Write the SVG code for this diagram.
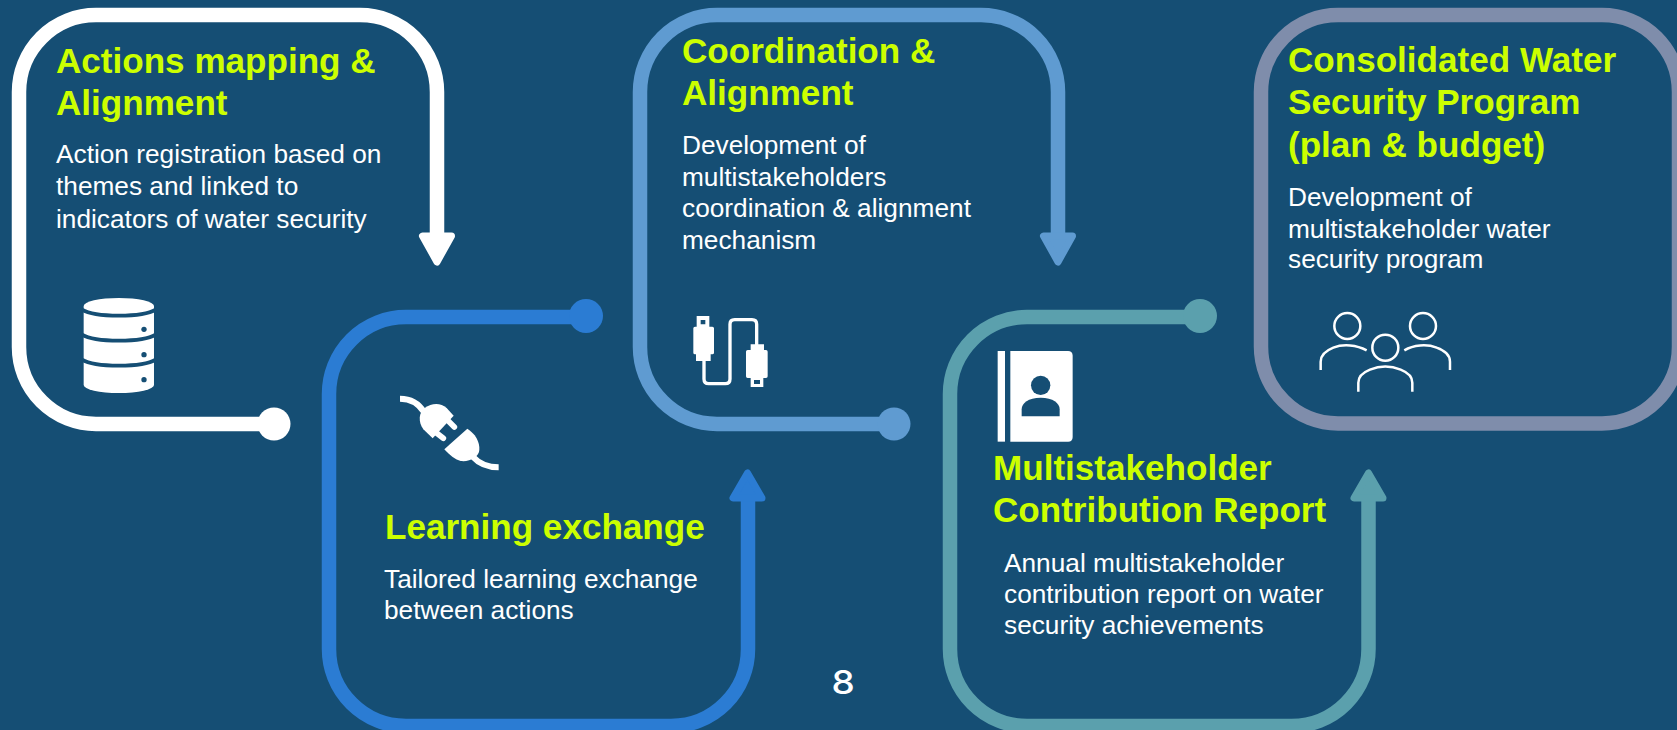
<svg xmlns="http://www.w3.org/2000/svg" width="1677" height="730" viewBox="0 0 1677 730">
<defs>
<style>
.h{font:bold 35.1px "Liberation Sans",Arial,sans-serif;fill:#ccff00}
.b{font:26.25px "Liberation Sans",Arial,sans-serif;fill:#fff}
.loop{fill:none;stroke-width:14.5}
.head{stroke-width:7;stroke-linejoin:round}
.w{fill:#fff;stroke:#fff}.wl{stroke:#fff}.wd{fill:#fff}
.c2{fill:#2b7cd3;stroke:#2b7cd3}.l2{stroke:#2b7cd3}.d2{fill:#2b7cd3}
.c3{fill:#5f9bd1;stroke:#5f9bd1}.l3{stroke:#5f9bd1}.d3{fill:#5f9bd1}
.c4{fill:#5ba0ad;stroke:#5ba0ad}.l4{stroke:#5ba0ad}.d4{fill:#5ba0ad}
.ic{fill:#fff}.icl{fill:none;stroke:#fff}.dk{fill:#154e74}.dkl{fill:none;stroke:#154e74}
</style>
</defs>
<rect width="1677" height="730" fill="#154e74"/>
<g id="connectors">
<path class="loop wl" d="M274 424H96A77 77 0 0 1 19 347V92A77 77 0 0 1 96 15H360A77 77 0 0 1 437 92V236"/>
<circle class="wd" cx="274" cy="424" r="16.500"/>
<polygon class="head w" points="422.500,236 451.500,236 437,262"/>
<path class="loop l2" d="M586 317H406A77 77 0 0 0 329 394V649A77 77 0 0 0 406 726H671A77 77 0 0 0 748 649V498"/>
<circle class="d2" cx="586" cy="316" r="17"/>
<polygon class="head c2" points="733,498 762,498 747.500,473"/>
<path class="loop l3" d="M894 424H717A77 77 0 0 1 640 347V92A77 77 0 0 1 717 15H981A77 77 0 0 1 1058 92V236"/>
<circle class="d3" cx="894" cy="424" r="16.500"/>
<polygon class="head c3" points="1043.500,236 1072.500,236 1058,262"/>
<path class="loop l4" d="M1200 317H1027A77 77 0 0 0 950 394V649A77 77 0 0 0 1027 726H1291A77 77 0 0 0 1368.500 649V498"/>
<circle class="d4" cx="1200" cy="316" r="17"/>
<polygon class="head c4" points="1354,498 1383,498 1368.500,473"/>
</g>
<g id="node1">
<text class="h" x="56" y="73">Actions mapping &amp;</text>
<text class="h" x="56" y="115">Alignment</text>
<text class="b" x="56" y="163">Action registration based on</text>
<text class="b" x="56" y="195">themes and linked to</text>
<text class="b" x="56" y="228">indicators of water security</text>
<g id="icon-database" transform="translate(60 280) scale(.3333)">
<path class="ic" d="M71 78A105.500 24 0 0 1 282 78V315A105.500 24 0 0 1 71 315Z"/>
<path class="dkl" stroke-width="11" d="M66 89C105 113 248 113 287 89M66 164C105 188 248 188 287 164M66 239C105 263 248 263 287 239"/>
<circle class="dk" cx="252" cy="148" r="8"/><circle class="dk" cx="252" cy="224" r="8"/><circle class="dk" cx="252" cy="299" r="8"/>
</g>
</g>
<g id="node2">
<text class="h" x="385" y="539">Learning exchange</text>
<text class="b" x="384" y="588">Tailored learning exchange</text>
<text class="b" x="384" y="619">between actions</text>
<g id="icon-plug" transform="translate(390 380) scale(.3333)">
<path class="icl" stroke-width="18" d="M30 56C62 56 86 70 102 96"/>
<path class="ic" d="M191 107L128 175L100 148C84 125 86 98 104 84C126 68 152 68 170 84Z"/>
<path class="icl" stroke-width="17" stroke-linecap="round" d="M172 120L193 141M136 156L160 175"/>
<path class="ic" d="M163 208L232 146C255 160 270 185 268 210C266 232 240 246 212 243C196 240 180 226 163 208Z"/>
<path class="icl" stroke-width="18" d="M250 232C268 252 296 262 326 262"/>
</g>
</g>
<g id="node3">
<text class="h" x="682" y="63">Coordination &amp;</text>
<text class="h" x="682" y="105">Alignment</text>
<text class="b" x="682" y="154">Development of</text>
<text class="b" x="682" y="186">multistakeholders</text>
<text class="b" x="682" y="217">coordination &amp; alignment</text>
<text class="b" x="682" y="249">mechanism</text>
<g id="icon-usb" transform="translate(680 305) scale(.3333)">
<path class="icl" stroke-width="10" d="M72 165V222Q72 236 86 236H136Q150 236 150 222V58Q150 44 164 44H216Q230 44 230 58V120"/>
<path class="ic" fill-rule="evenodd" d="M50 33H88V65H97Q102 65 102 70V143Q102 148 97 148H92V168H48V148H45Q40 148 40 143V70Q40 65 45 65H50ZM62 45V58H76V45Z"/>
<path class="ic" fill-rule="evenodd" d="M212 118H252V135H258Q263 135 263 140V214Q263 219 258 219H250V246H212V219H203Q198 219 198 214V140Q198 135 203 135H212ZM222 225V237H240V225Z"/>
</g>
</g>
<g id="node4">
<text class="h" x="993" y="480">Multistakeholder</text>
<text class="h" x="993" y="522">Contribution Report</text>
<text class="b" x="1004" y="572">Annual multistakeholder</text>
<text class="b" x="1004" y="603">contribution report on water</text>
<text class="b" x="1004" y="634">security achievements</text>
<g id="icon-book" transform="translate(985 340) scale(.3333)">
<rect class="ic" x="38" y="33" width="22" height="272"/>
<path class="ic" d="M76 33H249Q263 33 263 47V291Q263 305 249 305H76Z"/>
<circle class="dk" cx="167" cy="136" r="29"/>
<path class="dk" d="M110 229V208C110 189 130 173 167 173C204 173 224 189 224 208V229Z"/>
</g>
</g>
<g id="node5">
<rect class="loop" stroke="#7f8dab" x="1261" y="15" width="418" height="408.500" rx="77" ry="77"/>
<text class="h" x="1288" y="72">Consolidated Water</text>
<text class="h" x="1288" y="114">Security Program</text>
<text class="h" x="1288" y="157">(plan &amp; budget)</text>
<text class="b" x="1288" y="206">Development of</text>
<text class="b" x="1288" y="238">multistakeholder water</text>
<text class="b" x="1288" y="268">security program</text>
<g id="icon-people" transform="translate(1300 301) scale(.3333)">
<g class="icl" stroke-width="7.500">
<circle cx="142" cy="75" r="39"/><circle cx="369" cy="75" r="39"/><circle cx="256" cy="140" r="39"/>
<path d="M62 207V182C62 160 80 148 100 140C130 128 170 132 200 148"/>
<path d="M313 148C340 132 380 128 410 140C432 148 450 160 450 182V207"/>
<path d="M175 272V245C175 225 190 214 210 206C240 194 272 194 302 206C322 214 337 225 337 245V272"/>
</g>
</g>
</g>
<text id="page-number" transform="translate(843 694) scale(1.12 1)" text-anchor="middle" font-family="Inter, 'Open Sans', sans-serif" font-size="33" font-weight="500" fill="#fff">8</text>
</svg>
